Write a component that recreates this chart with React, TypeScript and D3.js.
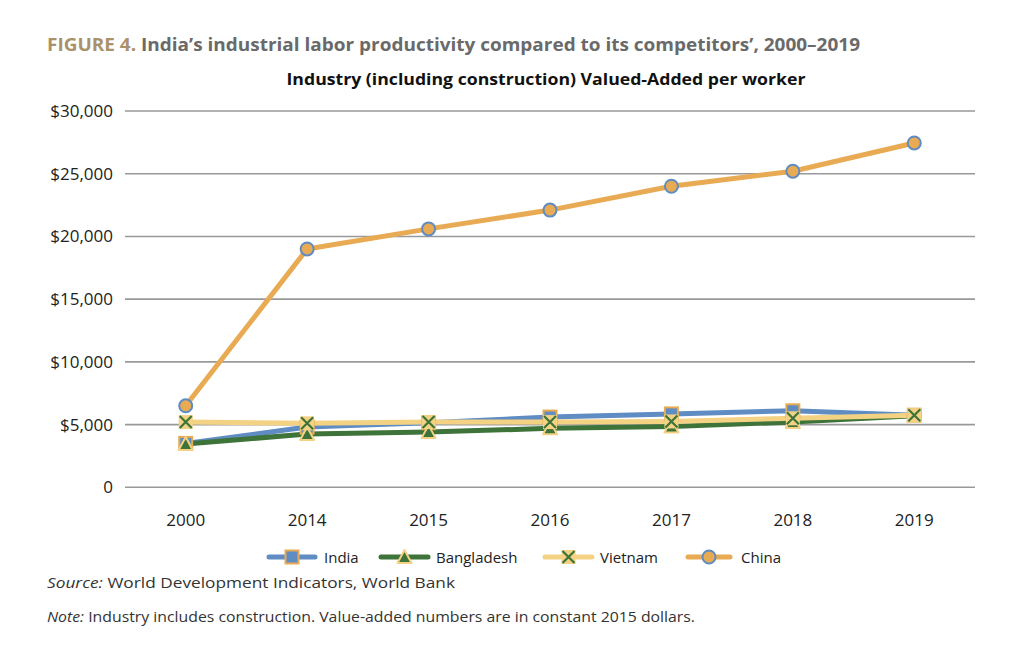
import React from "react";
import * as d3 from "d3";

const years = ["2000", "2014", "2015", "2016", "2017", "2018", "2019"];
const india = [3500, 4800, 5150, 5600, 5850, 6100, 5750];
const bangladesh = [3450, 4250, 4400, 4700, 4850, 5200, 5700];
const vietnam = [5200, 5100, 5200, 5200, 5250, 5500, 5750];
const china = [6500, 19000, 20600, 22100, 24000, 25200, 27450];
const yTicks = [0, 5000, 10000, 15000, 20000, 25000, 30000];

const BLUE = "#5E8CC3";
const GREEN = "#3E7339";
const YELLOW = "#F3D283";
const ORANGE = "#E8AA52";
const FONT = "'Open Sans', sans-serif";

type Series = { name: string; values: number[]; color: string; marker: string };
const series: Series[] = [
  { name: "India", values: india, color: BLUE, marker: "square" },
  { name: "Bangladesh", values: bangladesh, color: GREEN, marker: "triangle" },
  { name: "Vietnam", values: vietnam, color: YELLOW, marker: "x" },
  { name: "China", values: china, color: ORANGE, marker: "circle" },
];

function Marker({ type, x, y }: { type: string; x: number; y: number }) {
  if (type === "square")
    return <rect x={x - 6.5} y={y - 6.5} width={13} height={13} fill={BLUE} stroke={ORANGE} strokeWidth={2} />;
  if (type === "triangle")
    return (
      <path
        d={`M${x},${y - 7} L${x + 7},${y + 6} L${x - 7},${y + 6} Z`}
        fill={GREEN}
        stroke={YELLOW}
        strokeWidth={2}
        strokeLinejoin="round"
      />
    );
  if (type === "x")
    return (
      <g>
        <rect x={x - 7} y={y - 7} width={14} height={14} fill={YELLOW} />
        <path d={`M${x - 6},${y - 6} L${x + 6},${y + 6} M${x + 6},${y - 6} L${x - 6},${y + 6}`} stroke={GREEN} strokeWidth={2.2} />
      </g>
    );
  return <circle cx={x} cy={y} r={6.5} fill={ORANGE} stroke={BLUE} strokeWidth={2} />;
}

export default function App() {
  const W = 1010, H = 648;
  const left = 125, right = 975, top = 111, bottom = 487.3;
  const x = d3.scaleBand().domain(years).range([left, right]);
  const xc = (y: string) => (x(y) as number) + x.bandwidth() / 2;
  const y = d3.scaleLinear().domain([0, 30000]).range([bottom, top]);
  const line = d3
    .line<number>()
    .x((_, i) => xc(years[i]))
    .y((v) => y(v));
  const fmt = (v: number) => (v === 0 ? "0" : "$" + d3.format(",")(v));

  const legendItems = [
    { s: series[0], lx: 269, lw: 46, tx: 324 },
    { s: series[1], lx: 381, lw: 47, tx: 436 },
    { s: series[2], lx: 545, lw: 47, tx: 600 },
    { s: series[3], lx: 688, lw: 42, tx: 741 },
  ];

  return (
    <svg width={W} height={H} style={{ position: "absolute", left: 0, top: 0, background: "#fff" }} fontFamily={FONT}>
      <rect width={W} height={H} fill="#fff" />
      <text x={47} y={51} fontSize={18.5} fontWeight={700} fill="#6a6a6a" textLength={813} lengthAdjust="spacingAndGlyphs">
        <tspan fill="#AA916A">FIGURE 4.</tspan> India’s industrial labor productivity compared to its competitors’, 2000–2019
      </text>
      <text x={546} y={85} fontSize={16.5} fontWeight={700} fill="#111" textAnchor="middle" textLength={519} lengthAdjust="spacingAndGlyphs">
        Industry (including construction) Valued-Added per worker
      </text>
      {yTicks.map((t) => (
        <g key={t}>
          <line x1={left} x2={right} y1={y(t)} y2={y(t)} stroke="#999" strokeWidth={1.6} />
          <text x={113} y={y(t) + 6} textAnchor="end" fontSize={17} fill="#222">
            {fmt(t)}
          </text>
        </g>
      ))}
      {years.map((yr) => (
        <text key={yr} x={xc(yr)} y={526} textAnchor="middle" fontSize={17} fill="#222">
          {yr}
        </text>
      ))}
      {series.map((s) => (
        <path key={s.name} d={line(s.values) || ""} fill="none" stroke={s.color} strokeWidth={5} strokeLinejoin="round" strokeLinecap="round" />
      ))}
      {series.map((s) =>
        s.values.map((v, i) => <Marker key={s.name + i} type={s.marker} x={xc(years[i])} y={y(v)} />)
      )}
      {legendItems.map(({ s, lx, lw, tx }) => (
        <g key={s.name}>
          <line x1={lx} x2={lx + lw} y1={557} y2={557} stroke={s.color} strokeWidth={5} strokeLinecap="round" />
          <Marker type={s.marker} x={lx + lw / 2} y={557} />
          <text x={tx} y={562.5} fontSize={15} fill="#222">
            {s.name}
          </text>
        </g>
      ))}
      <text x={47} y={588} fontSize={15} fill="#333" textLength={408} lengthAdjust="spacingAndGlyphs">
        <tspan fontStyle="italic">Source:</tspan> World Development Indicators, World Bank
      </text>
      <text x={47} y={622} fontSize={15} fill="#333" textLength={648} lengthAdjust="spacingAndGlyphs">
        <tspan fontStyle="italic">Note:</tspan> Industry includes construction. Value-added numbers are in constant 2015 dollars.
      </text>
    </svg>
  );
}
